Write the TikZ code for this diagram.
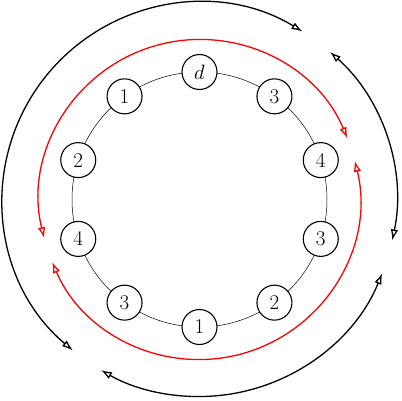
\documentclass[tikz,border=0pt]{standalone}
\usetikzlibrary{arrows.meta,calc}
\begin{document}
\begin{tikzpicture}[x=1pt,y=1pt,
  vnode/.style={circle,draw,line width=1.1pt,fill=white,minimum size=35pt,inner sep=0pt,font=\fontsize{21}{25}\selectfont},
  redarc/.style={red,line width=1.3pt,{Latex[open,length=11pt,width=7.5pt]}-{Latex[open,length=11pt,width=7.5pt]}},
  blackarc/.style={black,line width=1.3pt,{Latex[open,length=11pt,width=7.5pt]}-{Latex[open,length=11pt,width=7.5pt]}}]
\useasboundingbox (0,0) rectangle (402,400);
\coordinate (C) at (199.5,200.5);
\draw[line width=0.5pt] (C) circle[radius=127.5];
\foreach \lab [count=\i from 0] in {$d$,3,4,3,2,1,3,4,2,1}{
  \node[vnode] (n\i) at ($(C)+({90-36*\i}:127.5)$) {\lab};
}
% red arcs
\draw[redarc] ([shift={(194:160)}]C) arc[start angle=194,end angle=22.5,radius=160];
\draw[redarc] ([shift={(14:160)}]C) arc[start angle=14,end angle=-157,radius=160];
% black arcs
\draw[blackarc] ([shift={(230:197)}]C) arc[start angle=230,end angle=58.5,radius=197];
\draw[blackarc] ([shift={(48.5:197)}]C) arc[start angle=48.5,end angle=-12,radius=197];
\draw[blackarc] ([shift={(-22:197)}]C) arc[start angle=-22,end angle=-120,radius=197];
\end{tikzpicture}
\end{document}
